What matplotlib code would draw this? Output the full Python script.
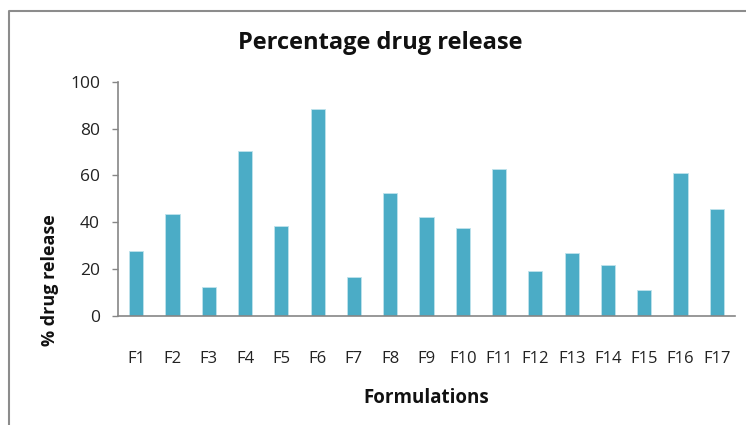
import matplotlib
matplotlib.use("Agg")
import matplotlib.pyplot as plt
from matplotlib.lines import Line2D

categories = ["F1", "F2", "F3", "F4", "F5", "F6", "F7", "F8", "F9", "F10",
              "F11", "F12", "F13", "F14", "F15", "F16", "F17"]
release = [27.9, 43.5, 12.4, 70.5, 38.4, 88.2, 16.8, 52.5, 42.1, 37.6,
           62.7, 19.2, 26.8, 21.8, 11.1, 61.0, 45.8]
yticks = [0, 20, 40, 60, 80, 100]

plt.rcParams['font.family'] = ['Open Sans', 'DejaVu Sans']

fig = plt.figure(figsize=(7.46, 4.25), dpi=100)
ax = fig.add_axes([118/746, 1-316/425, (735-118)/746, (316-81.7)/425])

x = list(range(len(categories)))
ax.bar(x, release, width=0.39, color="#4BACC6", edgecolor="#BFE3EC", linewidth=0.6, zorder=2)
ax.set_xlim(-0.5, len(categories) - 0.5)
ax.set_ylim(0, 100)
ax.set_yticks(yticks)
ax.set_yticklabels([str(t) for t in yticks], fontsize=12.5, color="#222222")
ax.set_xticks(x)
ax.set_xticklabels(categories, fontsize=12, color="#222222")
ax.tick_params(axis='x', length=0, pad=25)
ax.tick_params(axis='y', length=4, width=1, color="#868686", pad=9)

for s in ["top", "right"]:
    ax.spines[s].set_visible(False)
for s in ["left", "bottom"]:
    ax.spines[s].set_color("#868686")
    ax.spines[s].set_linewidth(1.2)

fig.text(380/746, 1-43/425, "Percentage drug release", ha="center", va="center",
         fontsize=17, fontweight="bold", color="#111111")
fig.text(426/746, 1-398/425, "Formulations", ha="center", va="center",
         fontsize=13.5, fontweight="bold", color="#111111")
fig.text(50/746, 1-280/425, "% drug release", ha="center", va="center",
         rotation=90, fontsize=13, fontweight="bold", color="#111111")

top = 1 - 11/425
left = 9/746
fig.add_artist(Line2D([left, left, 1.0], [0.0, top, top], transform=fig.transFigure,
                      color="#8C8C8C", linewidth=1.5))

fig.savefig("out.png", dpi=100, facecolor="white")
